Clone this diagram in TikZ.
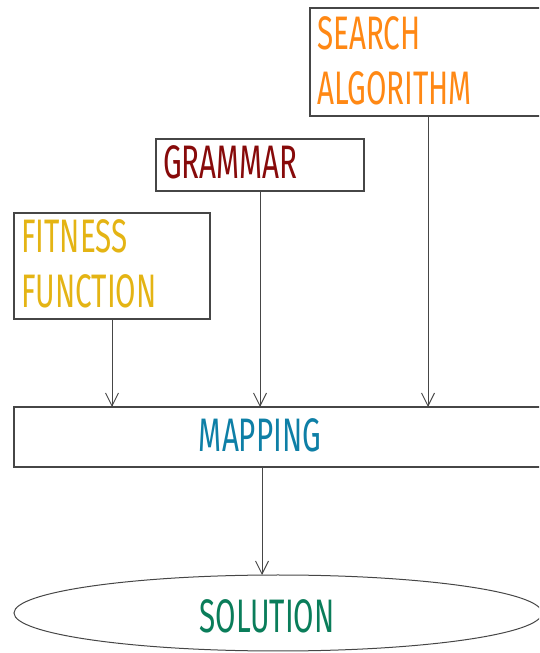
\documentclass[tikz,border=0pt]{standalone}
\usepackage{fontspec}
\setmainfont{Fira Sans}[FakeStretch=0.63]
\usetikzlibrary{arrows.meta,shapes.geometric}
\definecolor{cSearch}{RGB}{255,136,20}
\definecolor{cGram}{RGB}{135,10,10}
\definecolor{cFit}{RGB}{228,180,20}
\definecolor{cMap}{RGB}{14,127,166}
\definecolor{cSol}{RGB}{10,125,90}
\definecolor{cLine}{RGB}{70,70,70}
\tikzset{
  boxline/.style={draw=cLine, line width=1.2pt},
  ellline/.style={draw=cLine, line width=1pt},
  conn/.style={draw=cLine, line width=0.9pt, -{Straight Barb[length=13pt,width=13pt,line width=0.9pt]}},
  lbl/.style={inner sep=0pt, anchor=base west, font=\fontsize{47}{50}\selectfont},
}
\begin{document}
\begin{tikzpicture}[x=1pt,y=1pt]
\useasboundingbox (0,0) rectangle (539,653);
\clip (0,0) rectangle (539,653);
% boxes
\draw[boxline] (310,537) rectangle (560,645);
\draw[boxline] (156,462) rectangle (364,514);
\draw[boxline] (14,334) rectangle (210,440);
\draw[boxline] (14,186) rectangle (560,246);
\node[ellline, ellipse, minimum width=528pt, minimum height=76pt, inner sep=0pt] (sol) at (278,40) {};
% labels
\node[lbl, text=cSearch] (search) at (317,603) {SEARCH};
\node[lbl, text=cSearch] (search2) at (317,548) {ALGORITHM};
\node[lbl, text=cGram] (gram) at (163,474) {GRAMMAR};
\node[lbl, text=cFit] (fit) at (21,400) {FITNESS};
\node[lbl, text=cFit] (fit2) at (21,345) {FUNCTION};
\node[lbl, anchor=base, text=cMap] (map) at (260,201) {MAPPING};
\node[lbl, anchor=base, text=cSol] (soltext) at (267,20) {SOLUTION};
% connector endpoints
\coordinate (sA) at (428,537);
\coordinate (sB) at (428,246);
\coordinate (gA) at (260,462);
\coordinate (gB) at (260,246);
\coordinate (fA) at (112,334);
\coordinate (fB) at (112,246);
\coordinate (mA) at (262,186);
\coordinate (mB) at (262,78);
\draw[conn] (sA) -- (sB);
\draw[conn] (gA) -- (gB);
\draw[conn] (fA) -- (fB);
\draw[conn] (mA) -- (mB);
\end{tikzpicture}
\end{document}
